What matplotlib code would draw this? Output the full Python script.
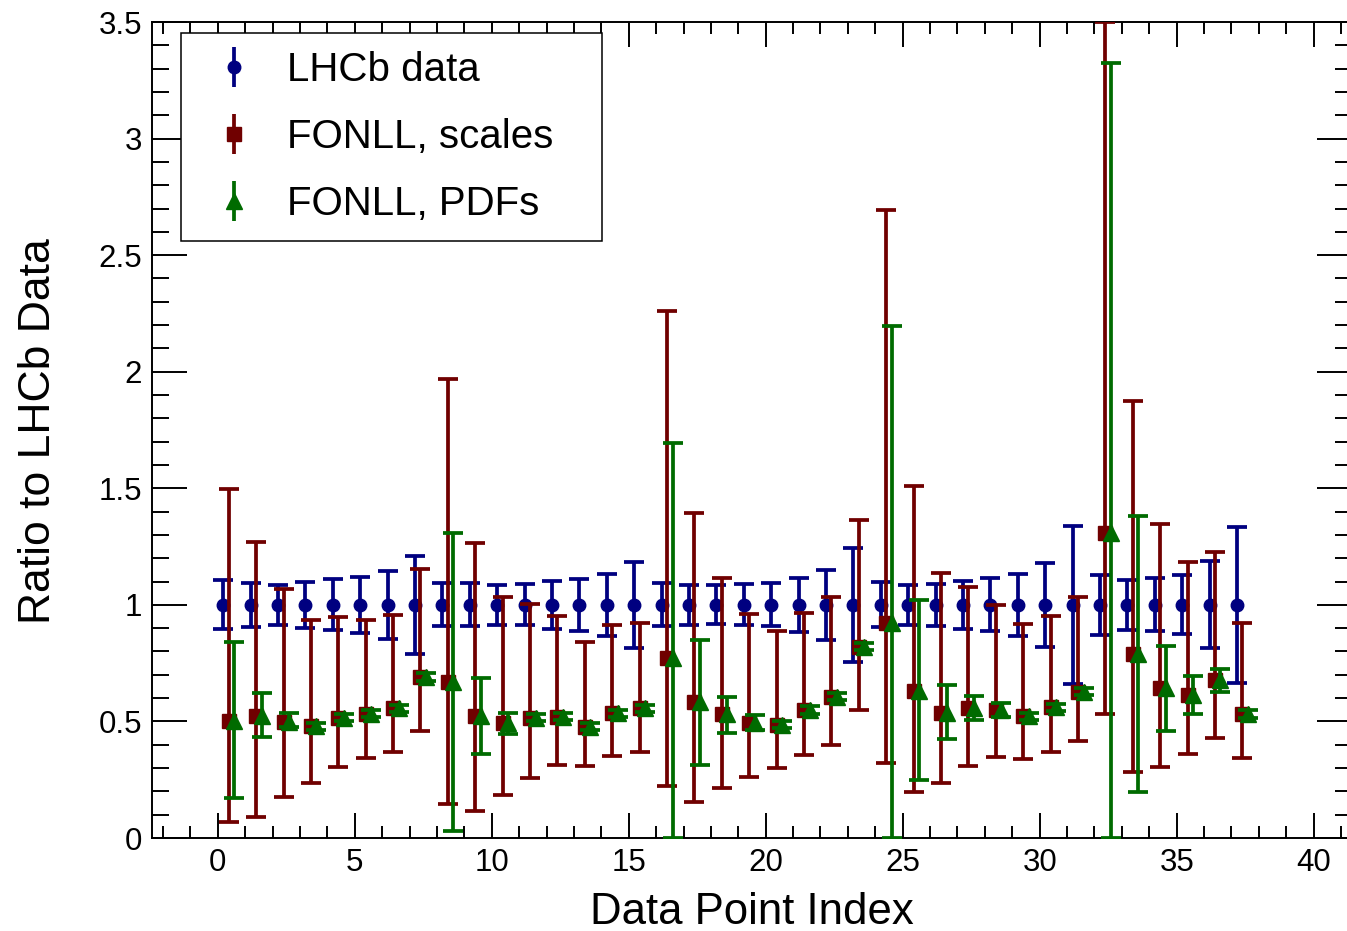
import numpy as np
import matplotlib

matplotlib.use("Agg")
import matplotlib.pyplot as plt
from matplotlib.ticker import MultipleLocator, FormatStrFormatter
from matplotlib.lines import Line2D
from matplotlib.legend_handler import HandlerTuple

plt.rcParams["font.family"] = ["Liberation Sans", "DejaVu Sans"]

# data point index (38 points), LHCb data normalised to itself
point_index = np.arange(38)
lhcb_ratio = np.ones(38)
lhcb_err = [0.105, 0.093, 0.087, 0.100, 0.109, 0.120, 0.145, 0.210, 0.092, 0.092,
            0.086, 0.088, 0.102, 0.111, 0.133, 0.185, 0.092, 0.086, 0.084, 0.088,
            0.092, 0.117, 0.149, 0.243, 0.096, 0.086, 0.090, 0.104, 0.114, 0.133,
            0.181, 0.338, 0.130, 0.108, 0.114, 0.127, 0.186, 0.336]

# FONLL central prediction / data
fonll_central = [0.503, 0.525, 0.499, 0.480, 0.516, 0.532, 0.556, 0.692, 0.668, 0.525,
                 0.492, 0.516, 0.520, 0.478, 0.535, 0.556, 0.771, 0.582, 0.532, 0.495,
                 0.485, 0.549, 0.606, 0.821, 0.921, 0.632, 0.538, 0.556, 0.549, 0.523,
                 0.560, 0.628, 1.307, 0.789, 0.642, 0.613, 0.678, 0.531]

# scale variation band (lower / upper edges)
scales_lo = [0.070, 0.092, 0.177, 0.235, 0.303, 0.342, 0.367, 0.460, 0.146, 0.114,
             0.183, 0.259, 0.313, 0.309, 0.352, 0.369, 0.223, 0.154, 0.216, 0.260,
             0.302, 0.356, 0.399, 0.549, 0.320, 0.199, 0.237, 0.309, 0.349, 0.340,
             0.370, 0.418, 0.532, 0.282, 0.306, 0.359, 0.428, 0.345]
scales_hi = [1.497, 1.271, 1.067, 0.935, 0.949, 0.935, 0.957, 1.154, 1.968, 1.267,
             1.035, 1.002, 0.954, 0.842, 0.912, 0.924, 2.261, 1.393, 1.117, 0.960,
             0.888, 0.964, 1.032, 1.364, 2.694, 1.510, 1.136, 1.078, 1.000, 0.918,
             0.952, 1.035, 3.500, 1.876, 1.347, 1.185, 1.227, 0.924]

# PDF uncertainty band (lower / upper edges)
pdfs_lo = [0.170, 0.432, 0.475, 0.465, 0.500, 0.517, 0.540, 0.675, 0.030, 0.362,
           0.444, 0.500, 0.505, 0.463, 0.520, 0.540, 0.000, 0.313, 0.452, 0.463,
           0.470, 0.533, 0.590, 0.805, 0.000, 0.249, 0.423, 0.506, 0.520, 0.508,
           0.545, 0.612, 0.000, 0.199, 0.459, 0.532, 0.625, 0.515]
pdfs_hi = [0.842, 0.620, 0.537, 0.495, 0.531, 0.547, 0.572, 0.708, 1.307, 0.688,
           0.535, 0.531, 0.535, 0.493, 0.550, 0.572, 1.693, 0.849, 0.606, 0.528,
           0.500, 0.565, 0.622, 0.837, 2.198, 1.021, 0.656, 0.610, 0.580, 0.538,
           0.575, 0.644, 3.323, 1.381, 0.825, 0.695, 0.724, 0.547]

BLUE = "#000080"
RED = "#700000"
GREEN = "#006b00"

fig = plt.figure(figsize=(13.47, 9.31), dpi=100)
fig.patch.set_facecolor("white")
ax = fig.add_axes([152 / 1347, 93 / 931, 1200 / 1347, 816 / 931])

central = np.array(fonll_central)
sc_err = [central - np.array(scales_lo), np.array(scales_hi) - central]
pdf_err = [central - np.array(pdfs_lo), np.array(pdfs_hi) - central]

common = dict(linestyle="none", elinewidth=2.7, capsize=7.5, capthick=2.7)
ax.errorbar(point_index + 0.2, lhcb_ratio, yerr=lhcb_err, fmt="o", ms=9,
            color=BLUE, zorder=3, **common)
ax.errorbar(point_index + 0.4, central, yerr=sc_err, fmt="s", ms=9.5,
            color=RED, zorder=4, **common)
ax.errorbar(point_index + 0.6, central, yerr=pdf_err, fmt="^", ms=11,
            color=GREEN, zorder=5, **common)

ax.set_xlim(-2.4, 41.4)
ax.set_ylim(0, 3.5)
ax.xaxis.set_major_locator(MultipleLocator(5))
ax.xaxis.set_minor_locator(MultipleLocator(1))
ax.yaxis.set_major_locator(MultipleLocator(0.5))
ax.yaxis.set_minor_locator(MultipleLocator(0.1))
ax.yaxis.set_major_formatter(FormatStrFormatter("%g"))
ax.xaxis.set_major_formatter(FormatStrFormatter("%g"))

ax.tick_params(which="both", direction="in", top=True, right=True, width=1.4,
               labelsize=22.5, pad=7)
ax.tick_params(axis="x", which="major", length=18)
ax.tick_params(axis="x", which="minor", length=8.6)
ax.tick_params(axis="y", which="major", length=25)
ax.tick_params(axis="y", which="minor", length=12.5)
for sp in ax.spines.values():
    sp.set_linewidth(1.4)

fig.text(752 / 1347, 1 - 924 / 931, "Data Point Index", fontsize=31.5,
         ha="center", va="baseline")
fig.text(38.5 / 1347, 1 - 431 / 931, "Ratio to LHCb Data", fontsize=32,
         rotation=90, ha="center", va="center")


# legend entries: a vertical bar with the marker on it, no caps
def legend_entry(marker, ms, color):
    bar = Line2D([], [], linestyle="none", marker="|", ms=29, mew=2.7, color=color)
    dot = Line2D([], [], linestyle="none", marker=marker, ms=ms, color=color)
    return (bar, dot)


handles = [legend_entry("o", 9, BLUE), legend_entry("s", 9.5, RED), legend_entry("^", 11, GREEN)]
leg = ax.legend(handles, ["LHCb data", "FONLL, scales", "FONLL, PDFs"],
                loc="upper left", bbox_to_anchor=(29 / 1200, 805 / 816, 421 / 1200, 0.0),
                mode="expand", borderaxespad=0, fontsize=29, frameon=True,
                fancybox=False, framealpha=1, edgecolor="black", borderpad=0.45,
                handlelength=1.74, handletextpad=0.45, labelspacing=0.72,
                handler_map={tuple: HandlerTuple(ndivide=1)})
leg.get_frame().set_linewidth(1.1)
leg.set_zorder(10)

fig.savefig("out.png", dpi=100)
